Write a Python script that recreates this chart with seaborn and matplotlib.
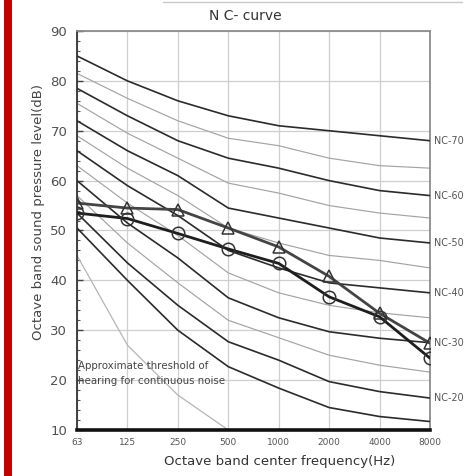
import matplotlib
matplotlib.use("Agg")
import matplotlib.pyplot as plt
import matplotlib.transforms as mtransforms
from matplotlib.patches import Rectangle
from matplotlib.lines import Line2D
from matplotlib.ticker import MultipleLocator
import numpy as np
import pandas as pd
import seaborn as sns

# ---------------- data ----------------
freqs = ["63", "125", "250", "500", "1000", "2000", "4000", "8000"]

nc70 = [85.0, 80.0, 76.0, 73.0, 71.0, 70.0, 69.0, 68.0]
nc65 = [81.5, 76.5, 72.0, 68.5, 67.0, 64.5, 63.0, 62.5]
nc60 = [78.5, 73.0, 68.0, 64.5, 62.5, 60.0, 58.0, 57.0]
nc55 = [75.5, 69.5, 64.5, 59.5, 57.5, 55.0, 53.5, 52.5]
nc50 = [72.0, 66.0, 61.0, 54.5, 52.5, 50.5, 48.5, 47.5]
nc45 = [69.0, 62.5, 57.0, 50.5, 47.5, 45.0, 44.0, 42.5]
nc40 = [66.0, 59.0, 53.0, 46.0, 42.5, 39.5, 38.5, 37.5]
nc35 = [63.0, 55.5, 49.0, 41.5, 37.5, 35.0, 33.5, 32.5]
nc30 = [60.0, 51.5, 44.5, 36.5, 32.5, 29.7, 28.4, 27.5]
nc25 = [57.0, 47.5, 39.5, 32.0, 28.5, 25.0, 23.0, 21.6]
nc20 = [53.5, 43.5, 35.0, 27.7, 24.0, 19.7, 17.7, 16.4]
nc15 = [50.5, 40.0, 30.0, 22.7, 18.4, 14.5, 12.7, 11.7]

threshold = [45.0, 27.0, 17.0, 10.0]          # 63 .. 500 Hz

measured_tri = [55.5, 54.5, 54.2, 50.5, 46.7, 40.8, 33.4, 27.4]
measured_circ = [53.5, 52.4, 49.4, 46.3, 43.4, 36.7, 32.7, 24.4]

dark_curves = [("NC-70", nc70), ("NC-60", nc60), ("NC-50", nc50),
               ("NC-40", nc40), ("NC-30", nc30), ("NC-20", nc20),
               ("NC-15", nc15)]
light_curves = [("NC-65", nc65), ("NC-55", nc55), ("NC-45", nc45),
                ("NC-35", nc35), ("NC-25", nc25)]
labelled = ["NC-70", "NC-60", "NC-50", "NC-40", "NC-30", "NC-20"]

title_text = "N C- curve"
xlabel_text = "Octave band center frequency(Hz)"
ylabel_text = "Octave band sound pressure level(dB)"
note_lines = ["Approximate threshold of", "hearing for continuous noise"]

# ---------------- style ----------------
sns.set_theme(style="white")
plt.rcParams['font.family'] = ['DejaVu Sans']

W, H = 468, 476
fig = plt.figure(figsize=(W / 100, H / 100), dpi=100)
fig.patch.set_facecolor("white")
ax = fig.add_axes([77 / W, 1 - 430 / H, (430 - 77) / W, (430 - 31) / H])

pos = np.arange(len(freqs))

def curve_df(vals):
    return pd.DataFrame({"pos": pos[:len(vals)], "level": vals})

for name, vals in light_curves:
    sns.lineplot(data=curve_df(vals), x="pos", y="level", ax=ax,
                 color="#a3a3a3", linewidth=0.85, zorder=2)
for name, vals in dark_curves:
    sns.lineplot(data=curve_df(vals), x="pos", y="level", ax=ax,
                 color="#2b2b2b", linewidth=1.2, zorder=3)

sns.lineplot(data=curve_df(threshold), x="pos", y="level", ax=ax,
             color="#b5b5b5", linewidth=0.9, zorder=2)

sns.lineplot(data=curve_df(measured_tri), x="pos", y="level", ax=ax,
             color="#444444", linewidth=2.0, marker="^", markersize=9,
             markerfacecolor="none", markeredgecolor="#333333",
             markeredgewidth=1.1, zorder=5)
sns.lineplot(data=curve_df(measured_circ), x="pos", y="level", ax=ax,
             color="#1e1e1e", linewidth=2.0, marker="o", markersize=9,
             markerfacecolor="none", markeredgecolor="#333333",
             markeredgewidth=1.1, zorder=5)

# axes
ax.set_xlim(0, len(freqs) - 1)
ax.set_ylim(10, 90)
ax.set_xticks(pos)
ax.set_xticklabels(freqs)
ax.set_yticks(np.arange(10, 91, 10))
ax.yaxis.set_minor_locator(MultipleLocator(2))
ax.set_xlabel("")
ax.set_ylabel("")
ax.grid(True, color="#cfcfcf", linewidth=0.9, zorder=0)
ax.set_axisbelow(True)

ax.tick_params(axis="x", length=0, pad=6, labelsize=6.5, labelcolor="#555555")
ax.tick_params(axis="y", which="major", direction="in", length=4, width=1,
               color="#444444", pad=7, labelsize=9.5, labelcolor="#505050",
               left=True)
ax.tick_params(axis="y", which="minor", direction="in", length=2.5, width=0.8,
               color="#555555", left=True)

for side in ["top", "right"]:
    ax.spines[side].set_color("#8c8c8c")
    ax.spines[side].set_linewidth(1.3)
ax.spines["left"].set_color("#333333")
ax.spines["left"].set_linewidth(1.3)
ax.spines["bottom"].set_color("#111111")
ax.spines["bottom"].set_linewidth(2.6)

# NC labels at the right
trans = mtransforms.blended_transform_factory(ax.transAxes, ax.transData)
for name, vals in dark_curves:
    if name in labelled:
        ax.text(1.012, vals[-1], name, transform=trans, fontsize=6.9,
                color="#555555", va="center", ha="left", clip_on=False)

# threshold note
ax.text(0.018, 22.8, note_lines[0], fontsize=7.4, color="#444444",
        va="center", ha="left")
ax.text(0.018, 19.9, note_lines[1], fontsize=7.4, color="#444444",
        va="center", ha="left")

# titles / labels
fig.text(245 / W, 1 - 16 / H, title_text, fontsize=10, color="#333333",
         ha="center", va="center")
fig.text(280 / W, 1 - 461 / H, xlabel_text, fontsize=9.5, color="#333333",
         ha="center", va="center")
fig.text(39 / W, 1 - 212 / H, ylabel_text, fontsize=9.5, color="#444444",
         ha="center", va="center", rotation=90)

# red bar on the left and faint line on top
fig.add_artist(Rectangle((4 / W, 0), 8 / W, 1, transform=fig.transFigure,
                         facecolor="#c40000", edgecolor="none"))
fig.add_artist(Line2D([163 / W, 462 / W], [1 - 1.5 / H, 1 - 1.5 / H],
                      transform=fig.transFigure, color="#c8c8c8", linewidth=1))

fig.savefig("out.png", dpi=100, facecolor="white")
